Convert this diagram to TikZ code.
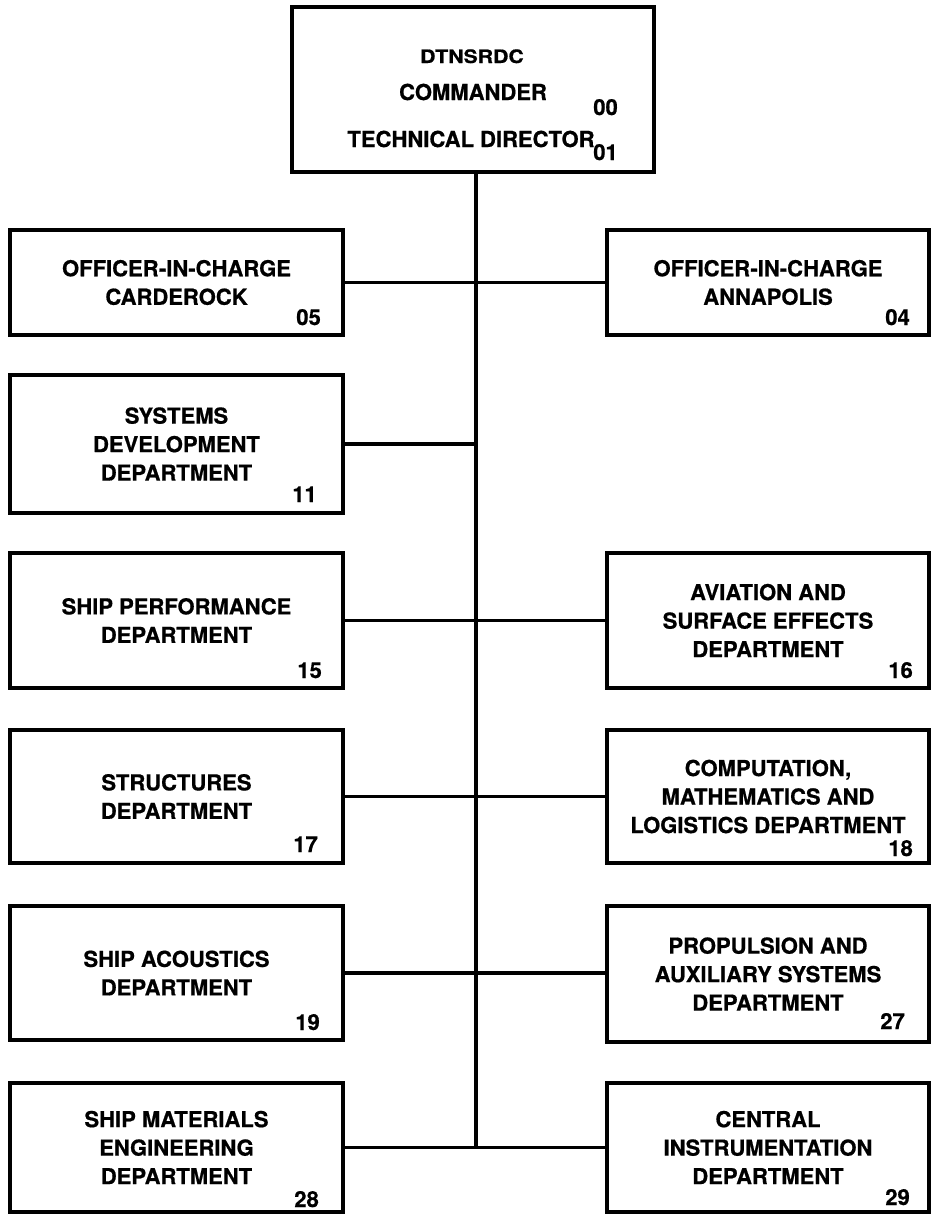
\documentclass[tikz,border=0pt]{standalone}
\usepackage{fontspec}
\setmainfont{TeX Gyre Heros}[BoldFeatures={FakeBold=0.7}]
\newcommand\orgfont{\fontsize{22}{28.5}\selectfont\bfseries}
\begin{document}
\begin{tikzpicture}[x=1pt,y=-1pt,
  box/.style={draw, line width=3.4pt, align=center, inner sep=0pt, font=\orgfont},
  lbox/.style={box, minimum width=333pt},
  rbox/.style={box, minimum width=322pt},
  num/.style={anchor=base east, inner sep=0pt, font=\orgfont},
  ttl/.style={anchor=base, inner sep=0pt, font=\orgfont},
  conn/.style={line width=3.2pt}]
\useasboundingbox (0,0) rectangle (930,1216);
\fill[white] (0,0) rectangle (930,1216);

% top box
\node[box, line width=3.8pt, minimum width=362pt, minimum height=165pt] (top) at (473,89.5) {};
\node[ttl, font=\fontsize{18.5}{18}\selectfont\bfseries, xscale=1.15] (t1) at (472,63) {DTNSRDC};
\node[ttl] (t2) at (473,100) {COMMANDER};
\node[ttl] (t3) at (471,147) {TECHNICAL DIRECTOR};
\node[num] (n00) at (618,115) {00};
\node[num] (n01) at (618,160) {01};

% row 1
\node[lbox, minimum height=105pt] (carde) at (176.5,282.5) {OFFICER-IN-CHARGE\\CARDEROCK};
\node[rbox, minimum height=105pt] (annap) at (768,282.5) {OFFICER-IN-CHARGE\\ANNAPOLIS};
\node[num] (n05) at (321,325) {05};
\node[num] (n04) at (910,325) {04};

% row 2
\node[lbox, minimum height=138pt] (sysdev) at (176.5,444) {SYSTEMS\\DEVELOPMENT\\DEPARTMENT};
\node[num] (n11) at (317,502) {11};

% row 3
\node[lbox, minimum height=135pt] (shipperf) at (176.5,620.5) {SHIP PERFORMANCE\\DEPARTMENT};
\node[rbox, minimum height=135pt] (aviat) at (768,620.5) {AVIATION AND\\SURFACE EFFECTS\\DEPARTMENT};
\node[num] (n15) at (322,678) {15};
\node[num] (n16) at (913,678) {16};

% row 4
\node[lbox, minimum height=133pt] (struct) at (176.5,796.5) {STRUCTURES\\DEPARTMENT};
\node[rbox, minimum height=133pt] (comput) at (768,796.5) {COMPUTATION,\\MATHEMATICS AND\\LOGISTICS DEPARTMENT};
\node[num] (n17) at (318,852) {17};
\node[num] (n18) at (913,856) {18};

% row 5
\node[lbox, minimum height=134pt] (acoust) at (176.5,973) {SHIP ACOUSTICS\\DEPARTMENT};
\node[rbox, minimum height=136pt] (propul) at (768,974) {PROPULSION AND\\AUXILIARY SYSTEMS\\DEPARTMENT};
\node[num] (n19) at (320,1030) {19};
\node[num] (n27) at (905,1029) {27};

% row 6
\node[lbox, minimum height=129pt] (mater) at (176.5,1147.5) {SHIP MATERIALS\\ENGINEERING\\DEPARTMENT};
\node[rbox, minimum height=129pt] (centr) at (768,1147.5) {CENTRAL\\INSTRUMENTATION\\DEPARTMENT};
\node[num] (n28) at (319,1207) {28};
\node[num] (n29) at (910,1205) {29};

% connectors
\coordinate (trunk) at (476,172);
\draw[conn] (trunk) -- (trunk |- mater.east);
\draw[conn] (carde.east) -- (annap.west);
\draw[conn] (sysdev.east) -- (sysdev.east -| trunk);
\draw[conn] (shipperf.east) -- (aviat.west);
\draw[conn] (struct.east) -- (comput.west);
\draw[conn] (acoust.east) -- (acoust.east -| propul.west);
\draw[conn] (mater.east) -- (centr.west);
\end{tikzpicture}
\end{document}
